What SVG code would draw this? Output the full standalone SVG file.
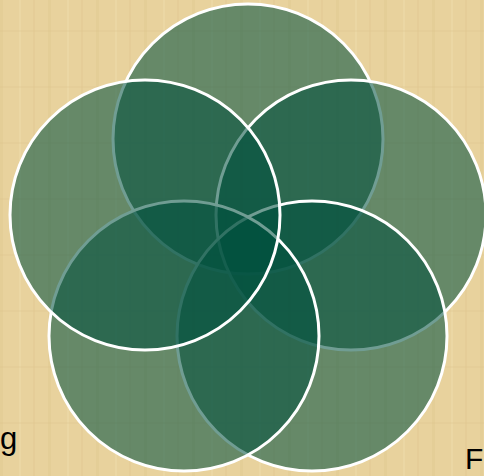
<svg xmlns="http://www.w3.org/2000/svg" width="484" height="476" viewBox="0 0 484 476">
  <defs>
    <pattern id="paper" width="48" height="56" patternUnits="userSpaceOnUse">
      <rect width="48" height="56" fill="#e8d29d"/>
      <rect x="0" y="0" width="3" height="56" fill="#dcc48c" opacity="0.35"/>
      <rect x="19" y="0" width="2" height="56" fill="#f1deae" opacity="0.45"/>
      <rect x="33" y="0" width="2" height="56" fill="#dac189" opacity="0.25"/>
      <rect x="0" y="30" width="48" height="2" fill="#dcc48c" opacity="0.25"/>
    </pattern>
  </defs>
  <style>
    .c { fill: #00503f; fill-opacity: 0.56; stroke: #ffffff; stroke-width: 3; }
    .t { font-family: "Liberation Sans", Arial, sans-serif; font-size: 31px; fill: #000000; }
  </style>
  <rect width="484" height="476" fill="url(#paper)"/>
  <g id="circle-top"><circle class="c" cx="248" cy="139" r="135"/></g>
  <g id="circle-right"><circle class="c" cx="351" cy="215" r="135"/></g>
  <g id="circle-bottom-right"><circle class="c" cx="312" cy="336" r="135"/></g>
  <g id="circle-bottom-left"><circle class="c" cx="184" cy="336" r="135"/></g>
  <g id="circle-left"><circle class="c" cx="145" cy="215" r="135"/></g>
  <g id="labels">
    <text class="t" x="0" y="449">g</text>
    <text class="t" x="465" y="469" style="font-size:30px">F</text>
  </g>
</svg>
